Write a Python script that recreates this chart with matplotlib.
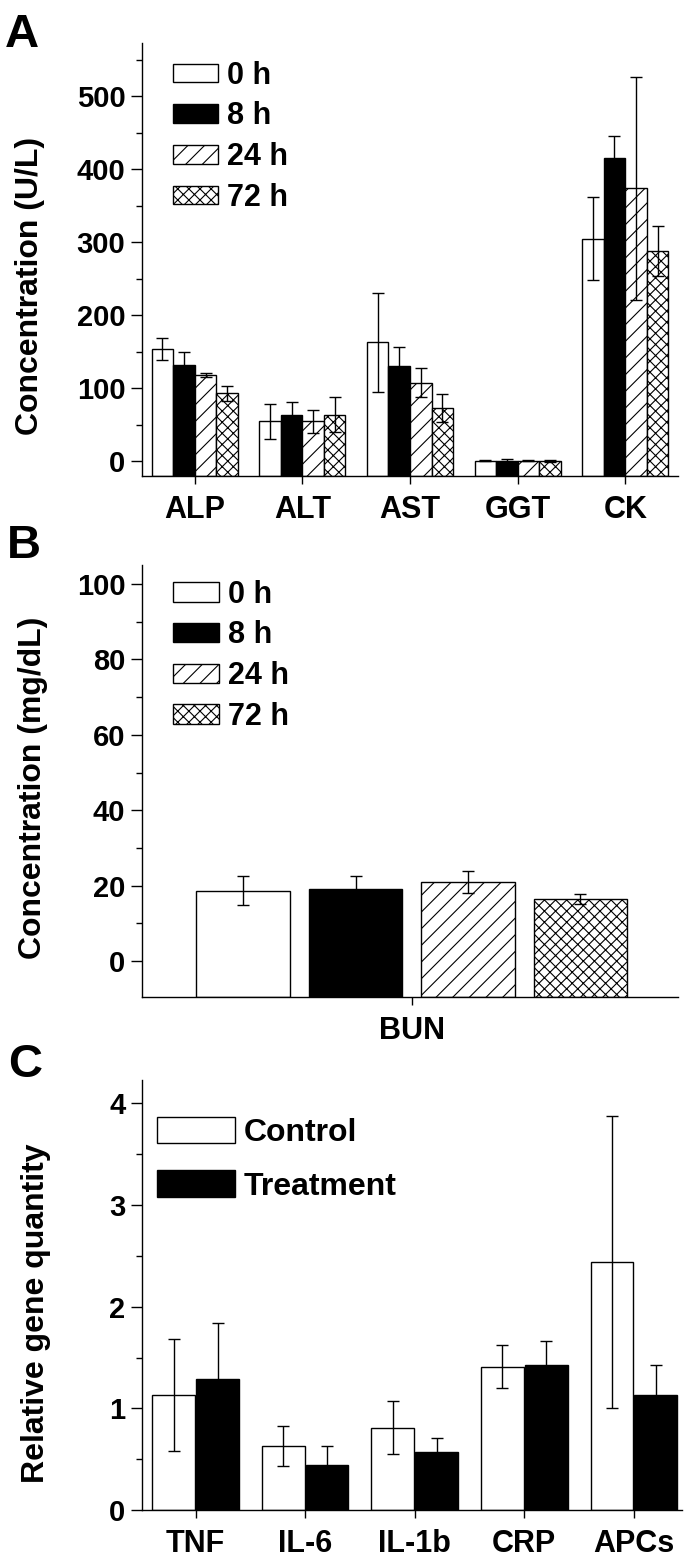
import numpy as np
import matplotlib.pyplot as plt
from matplotlib.ticker import MultipleLocator

# ---- panel A: serum enzymes (U/L) ----
enzymes = ['ALP', 'ALT', 'AST', 'GGT', 'CK']
a_0h = [154, 55, 163, 1, 305]
a_0h_err = [15, 24, 68, 0.5, 57]
a_8h = [132, 64, 130, 1, 415]
a_8h_err = [18, 18, 26, 2, 30]
a_24h = [118, 55, 108, 1, 374]
a_24h_err = [3, 16, 20, 0.5, 153]
a_72h = [93, 64, 73, 1, 288]
a_72h_err = [10, 24, 19, 1.5, 34]

# ---- panel B: BUN (mg/dL) ----
bun_groups = ['0 h', '8 h', '24 h', '72 h']
bun = [18.7, 19.2, 20.9, 16.5]
bun_err = [3.8, 3.3, 2.9, 1.3]

# ---- panel C: relative gene quantity ----
genes = ['TNF', 'IL-6', 'IL-1b', 'CRP', 'APCs']
control = [1.13, 0.63, 0.81, 1.41, 2.44]
control_err = [0.55, 0.20, 0.26, 0.21, 1.44]
treatment = [1.29, 0.44, 0.57, 1.43, 1.13]
treatment_err = [0.55, 0.19, 0.14, 0.23, 0.30]

time_labels = ['0 h', '8 h', '24 h', '72 h']
fills = ['white', 'black', 'white', 'white']
hatches = ['', '', '//', 'xxx']

plt.rcParams['font.family'] = ['Liberation Sans', 'DejaVu Sans']
plt.rcParams['font.weight'] = 'bold'
plt.rcParams['hatch.linewidth'] = 0.8
plt.rcParams['axes.linewidth'] = 1.0

W, H = 692, 1564
fig = plt.figure(figsize=(W / 100, H / 100), dpi=100)


def px_axes(left, top, right, bottom):
    return fig.add_axes([left / W, 1 - bottom / H, (right - left) / W, (bottom - top) / H])


def style(ax, major, minor):
    for s in ['top', 'right']:
        ax.spines[s].set_visible(False)
    ax.yaxis.set_major_locator(MultipleLocator(major))
    ax.yaxis.set_minor_locator(MultipleLocator(minor))
    ax.tick_params(axis='y', which='major', direction='out', length=8, width=1, pad=4, labelsize=21)
    ax.tick_params(axis='y', which='minor', direction='out', length=4.5, width=1)
    ax.tick_params(axis='x', which='major', direction='out', length=6, width=1, pad=8, labelsize=22)
    ax.tick_params(axis='x', which='minor', bottom=False)


def draw_bars(ax, x, vals, errs, width, base, fill, hatch, label):
    vals = np.asarray(vals, dtype=float)
    ax.bar(x, vals - base, width, bottom=base, color=fill, edgecolor='black',
           linewidth=1, hatch=hatch, label=label, zorder=2)
    ax.errorbar(x, vals, yerr=errs, fmt='none', ecolor='black', elinewidth=1,
                capsize=4, capthick=1, zorder=3)


# ---------------- A ----------------
ax_a = px_axes(142, 43, 678, 476)
xa = np.arange(len(enzymes))
a_vals = [a_0h, a_8h, a_24h, a_72h]
a_errs = [a_0h_err, a_8h_err, a_24h_err, a_72h_err]
a_lo = -20
for i in range(4):
    draw_bars(ax_a, xa + (i - 1.5) * 0.2, a_vals[i], a_errs[i], 0.2, a_lo,
              fills[i], hatches[i], time_labels[i])
ax_a.set_xlim(-0.49, 4.49)
ax_a.set_ylim(a_lo, 573)
ax_a.set_xticks(xa)
ax_a.set_xticklabels(enzymes)
style(ax_a, 100, 50)
ax_a.set_ylabel('Concentration (U/L)', fontsize=23, fontweight='bold')
ax_a.yaxis.set_label_coords(-0.181, 0.44)
ax_a.legend(loc='upper left', bbox_to_anchor=(0.057, 0.959), frameon=False,
            fontsize=22, handlelength=1.48, handleheight=0.56,
            handletextpad=0.3, labelspacing=0.35, borderpad=0, borderaxespad=0)

# ---------------- B ----------------
ax_b = px_axes(142, 565, 678, 997)
xb = np.array([-1.5, -0.5, 0.5, 1.5])
b_lo = -9.5
for i in range(4):
    draw_bars(ax_b, [xb[i]], [bun[i]], [bun_err[i]], 0.83, b_lo,
              fills[i], hatches[i], bun_groups[i])
ax_b.set_xlim(-2.4, 2.37)
ax_b.set_ylim(b_lo, 105)
ax_b.set_xticks([0])
ax_b.set_xticklabels(['BUN'])
style(ax_b, 20, 10)
ax_b.set_ylabel('Concentration (mg/dL)', fontsize=23, fontweight='bold')
ax_b.yaxis.set_label_coords(-0.176, 0.484)
ax_b.legend(loc='upper left', bbox_to_anchor=(0.058, 0.966), frameon=False,
            fontsize=22, handlelength=1.5, handleheight=0.6,
            handletextpad=0.3, labelspacing=0.35, borderpad=0, borderaxespad=0)

# ---------------- C ----------------
ax_c = px_axes(142, 1080, 682, 1510)
xc = np.arange(len(genes))
draw_bars(ax_c, xc - 0.2, control, control_err, 0.39, 0, 'white', '', 'Control')
draw_bars(ax_c, xc + 0.2, treatment, treatment_err, 0.39, 0, 'black', '', 'Treatment')
ax_c.set_xlim(-0.49, 4.44)
ax_c.set_ylim(0, 4.23)
ax_c.set_xticks(xc)
ax_c.set_xticklabels(genes)
style(ax_c, 1, 0.5)
ax_c.set_ylabel('Relative gene quantity', fontsize=23, fontweight='bold')
ax_c.yaxis.set_label_coords(-0.168, 0.458)
ax_c.legend(loc='upper left', bbox_to_anchor=(0.028, 0.915), frameon=False,
            fontsize=23, handlelength=2.45, handleheight=0.92,
            handletextpad=0.25, labelspacing=0.7, borderpad=0, borderaxespad=0)

# panel letters
fig.text(5 / W, 1 - 47 / H, 'A', fontsize=34, fontweight='bold', va='baseline')
fig.text(7 / W, 1 - 558 / H, 'B', fontsize=34, fontweight='bold', va='baseline')
fig.text(8 / W, 1 - 1077 / H, 'C', fontsize=34, fontweight='bold', va='baseline')

fig.savefig('out.png', dpi=100)
